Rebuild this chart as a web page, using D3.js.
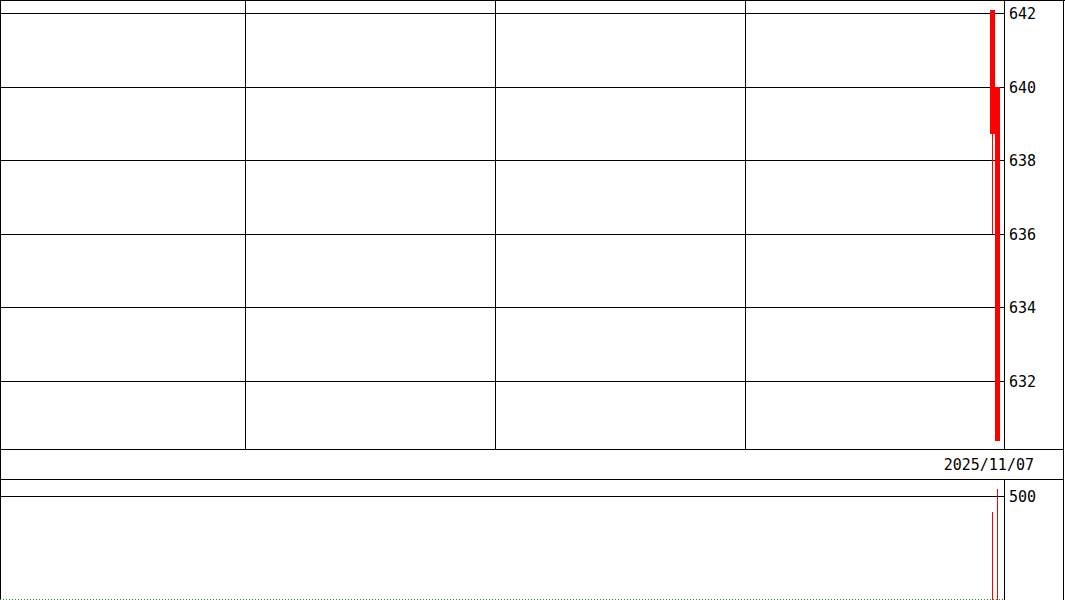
<!DOCTYPE html>
<html>
<head>
<meta charset="utf-8">
<script src="https://cdn.jsdelivr.net/npm/d3@7/dist/d3.min.js"></script>
<style>
  html, body { margin: 0; padding: 0; background: #fff; }
  svg { display: block; }
  text { font-family: "DejaVu Sans Mono", monospace; font-size: 15px; fill: #000; }
</style>
</head>
<body>
<svg id="chart" width="1065" height="600"></svg>
<script>
// ---- data ----
const candleSlots = [198, 199];
const candleTimes = ["2025/11/07 #1", "2025/11/07 #2"];
const opens  = [642.08, 640.00];
const highs  = [642.08, 640.00];
const lows   = [636.00, 630.38];
const closes = [638.71, 630.38];
const volumes = [422, 534];
const priceTicks = [632, 634, 636, 638, 640, 642];
const volumeTicks = [500];
const gridSlots = [49, 99, 149];
const dateLabel = "2025/11/07";

// ---- layout ----
const W = 1065, H = 600;
const plotRight = 1004;
const priceTop = 0, priceBottom = 449;
const stripBottom = 479;
const volTop = 479, volBottom = 599;

const svg = d3.select("#chart");
svg.append("rect").attr("width", W).attr("height", H).attr("fill", "#fff");

const x = d3.scaleLinear().domain([0, 200.8]).range([0, plotRight]);
const yP = d3.scaleLinear().domain([630.152, 642.353]).range([priceBottom, priceTop]);
const yV = d3.scaleLinear().domain([0, 500]).range([volBottom, 496]);

const crisp = v => Math.round(v) + 0.5;
const line = (g, x1, y1, x2, y2, color, w, dash) => {
  const l = g.append("line").attr("x1", x1).attr("y1", y1).attr("x2", x2).attr("y2", y2)
    .attr("stroke", color || "#000").attr("stroke-width", w || 1).attr("shape-rendering", "crispEdges");
  if (dash) l.attr("stroke-dasharray", dash);
  return l;
};

const grid = svg.append("g");
// price gridlines
priceTicks.forEach(t => line(grid, 0, crisp(yP(t)), plotRight, crisp(yP(t))));
// vertical gridlines in price panel
gridSlots.forEach(s => line(grid, crisp(x(s)), priceTop, crisp(x(s)), priceBottom));
// volume gridlines
volumeTicks.forEach(t => line(grid, 0, crisp(yV(t)), plotRight, crisp(yV(t))));

// frame
const frame = svg.append("g");
line(frame, 0.5, 0, 0.5, H);
line(frame, 0, 0.5, W, 0.5);
line(frame, W - 1.5, 0, W - 1.5, H);
line(frame, 0, priceBottom + 0.5, W - 1, priceBottom + 0.5);
line(frame, 0, stripBottom + 0.5, W - 1, stripBottom + 0.5);
line(frame, plotRight + 0.5, priceTop, plotRight + 0.5, priceBottom);
line(frame, plotRight + 0.5, volTop, plotRight + 0.5, H);
// volume baseline (dotted green)
line(frame, 0, volBottom + 0.5, plotRight, volBottom + 0.5, "#2a8a2a", 1, "1,2");

// candles
const cg = svg.append("g");
candleSlots.forEach((s, i) => {
  const x0 = x(s), x1 = x(s + 1);
  const cx = Math.floor((x0 + x1) / 2) + 0.5;
  line(cg, cx, yP(highs[i]), cx, yP(lows[i]), "#ff0000", 1);
  const top = yP(Math.max(opens[i], closes[i]));
  const bot = yP(Math.min(opens[i], closes[i]));
  cg.append("rect").attr("x", Math.round(x0)).attr("y", top)
    .attr("width", Math.round(x1) - Math.round(x0)).attr("height", Math.max(1, bot - top))
    .attr("fill", "#ff0000").attr("shape-rendering", "crispEdges")
    .append("title").text(candleTimes[i]);
});

// volume lines
const vg = svg.append("g");
candleSlots.forEach((s, i) => {
  const cx = Math.floor((x(s) + x(s + 1)) / 2) + 0.5;
  line(vg, cx, yV(volumes[i]), cx, volBottom + 1, "#ff0000", 1);
});

// axis labels
const lab = svg.append("g");
priceTicks.forEach(t => lab.append("text").attr("x", 1009).attr("y", yP(t) + 1)
  .attr("dominant-baseline", "central").text(t));
volumeTicks.forEach(t => lab.append("text").attr("x", 1009).attr("y", yV(t) + 1)
  .attr("dominant-baseline", "central").text(t));
lab.append("text").attr("x", 1034).attr("y", (priceBottom + stripBottom) / 2 + 1)
  .attr("text-anchor", "end").attr("dominant-baseline", "central").text(dateLabel);
</script>
</body>
</html>
